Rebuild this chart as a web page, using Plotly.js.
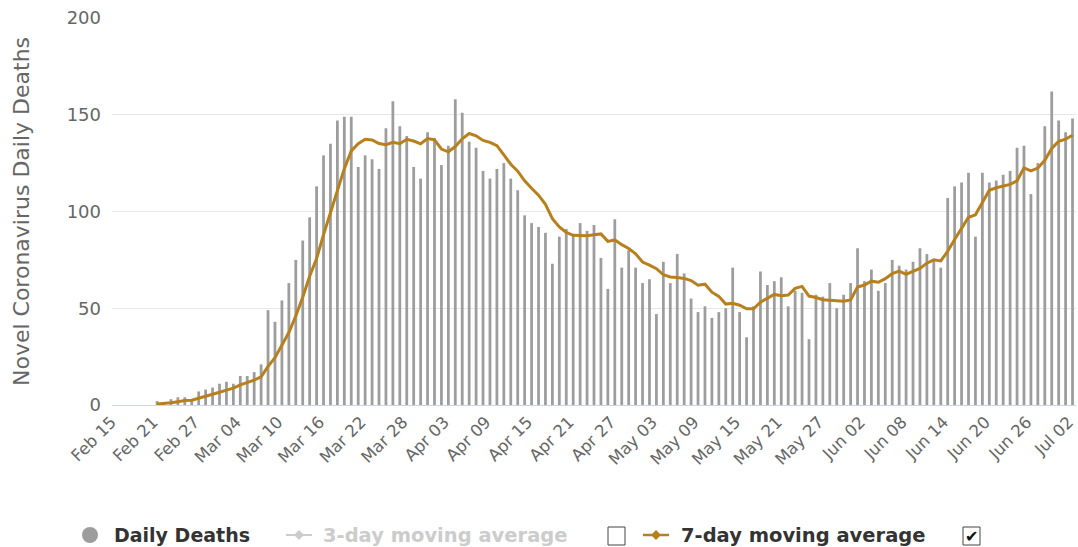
<!DOCTYPE html>
<html>
<head>
<meta charset="utf-8">
<script src="https://cdn.plot.ly/plotly-3.0.1.min.js"></script>
<style>
  html, body { margin: 0; padding: 0; background: #ffffff; }
  #chart { width: 1078px; height: 547px; }
</style>
</head>
<body>
<div id="chart"></div>
<script>
// ---- Data ----
const dates = [
  'Feb 15','Feb 16','Feb 17','Feb 18','Feb 19','Feb 20','Feb 21','Feb 22','Feb 23','Feb 24','Feb 25','Feb 26','Feb 27','Feb 28','Feb 29',
  'Mar 01','Mar 02','Mar 03','Mar 04','Mar 05','Mar 06','Mar 07','Mar 08','Mar 09','Mar 10','Mar 11','Mar 12','Mar 13','Mar 14','Mar 15','Mar 16',
  'Mar 17','Mar 18','Mar 19','Mar 20','Mar 21','Mar 22','Mar 23','Mar 24','Mar 25','Mar 26','Mar 27','Mar 28','Mar 29','Mar 30','Mar 31',
  'Apr 01','Apr 02','Apr 03','Apr 04','Apr 05','Apr 06','Apr 07','Apr 08','Apr 09','Apr 10','Apr 11','Apr 12','Apr 13','Apr 14','Apr 15',
  'Apr 16','Apr 17','Apr 18','Apr 19','Apr 20','Apr 21','Apr 22','Apr 23','Apr 24','Apr 25','Apr 26','Apr 27','Apr 28','Apr 29','Apr 30',
  'May 01','May 02','May 03','May 04','May 05','May 06','May 07','May 08','May 09','May 10','May 11','May 12','May 13','May 14','May 15','May 16',
  'May 17','May 18','May 19','May 20','May 21','May 22','May 23','May 24','May 25','May 26','May 27','May 28','May 29','May 30','May 31',
  'Jun 01','Jun 02','Jun 03','Jun 04','Jun 05','Jun 06','Jun 07','Jun 08','Jun 09','Jun 10','Jun 11','Jun 12','Jun 13','Jun 14','Jun 15',
  'Jun 16','Jun 17','Jun 18','Jun 19','Jun 20','Jun 21','Jun 22','Jun 23','Jun 24','Jun 25','Jun 26','Jun 27','Jun 28','Jun 29','Jun 30',
  'Jul 01','Jul 02'
];

const dailyDeaths = [
  0,0,0,0,0,0,2,1,3,4,4,3,7,8,9,
  11,12,11,15,15,17,21,49,43,54,63,75,85,97,113,129,
  135,147,149,149,123,129,127,122,143,157,144,139,123,117,141,
  138,124,134,158,151,136,133,121,117,122,125,117,111,98,94,
  92,89,73,87,91,88,94,90,93,76,60,96,71,80,71,
  63,65,47,74,63,78,68,55,48,51,45,48,50,71,48,35,
  51,69,62,64,66,51,59,58,34,57,56,63,50,57,63,
  81,64,70,59,63,75,72,70,74,81,78,75,71,107,113,
  115,120,87,120,115,116,119,121,133,134,109,125,144,162,147,
  141,148
];

const movingAvg7 = [
  null,null,null,null,null,null,0.57,0.71,1.14,1.71,2.29,2.43,3.43,4.29,5.43,
  6.57,7.71,8.71,10.43,11.57,12.86,14.57,20.00,24.43,30.57,37.43,46.00,55.71,66.57,75.71,88.00,
  99.57,111.57,122.14,131.29,135.00,137.29,137.00,135.14,134.57,135.71,135.00,137.29,136.43,135.00,137.71,
  137.00,132.29,130.86,133.57,137.57,140.29,139.14,136.71,135.71,134.00,129.29,124.43,120.86,115.86,112.00,
  108.43,103.71,96.29,92.00,89.14,87.71,87.71,87.43,88.00,88.43,84.57,85.29,82.86,80.86,78.14,
  73.86,72.29,70.43,67.29,66.14,65.86,65.43,64.29,61.86,62.43,58.29,56.14,52.14,52.57,51.57,49.71,
  49.71,53.14,55.14,57.14,56.43,56.86,60.29,61.29,56.29,55.57,54.43,54.00,53.86,53.57,54.29,
  61.00,62.00,64.00,63.43,65.29,67.86,69.14,67.57,69.00,70.57,73.29,75.00,74.43,79.43,85.57,
  91.43,97.00,98.29,104.71,111.00,112.29,113.14,114.00,115.86,122.57,121.00,122.43,126.43,132.57,136.29,
  137.43,139.43
];

const tickLabels = ['Feb 15','Feb 21','Feb 27','Mar 04','Mar 10','Mar 16','Mar 22','Mar 28','Apr 03','Apr 09','Apr 15','Apr 21',
  'Apr 27','May 03','May 09','May 15','May 21','May 27','Jun 02','Jun 08','Jun 14','Jun 20','Jun 26','Jul 02'];

const seriesNames = ['Daily Deaths', '3-day moving average', '7-day moving average'];
const yTitle = 'Novel Coronavirus Daily Deaths';

// ---- Styling ----
const BAR_COLOR = '#9d9d9d';
const LINE_COLOR = '#b8801c';
const HIDDEN_COLOR = '#cccccc';
const TEXT_DARK = '#333333';
const TEXT_GRAY = '#666666';

// plot-area geometry in pixels (for placing the custom legend)
const W = 1078, H = 547;
const M = {l: 112, r: 2, t: 18, b: 142};
const PW = W - M.l - M.r, PH = H - M.t - M.b;
const px = x => (x - M.l) / PW;
const py = y => (H - M.b - y) / PH;

const LEG_Y = 535;

function diamondPath(cx, cy, r) {
  return 'M' + px(cx - r) + ',' + py(cy) + ' L' + px(cx) + ',' + py(cy - r) +
         ' L' + px(cx + r) + ',' + py(cy) + ' L' + px(cx) + ',' + py(cy + r) + ' Z';
}

const shapes = [
  // Daily Deaths legend circle
  {type: 'circle', xref: 'paper', yref: 'paper', x0: px(82), x1: px(98), y0: py(LEG_Y - 8), y1: py(LEG_Y + 8),
   fillcolor: BAR_COLOR, line: {width: 0}},
  // 3-day legend icon (hidden series)
  {type: 'line', xref: 'paper', yref: 'paper', x0: px(286), x1: px(312), y0: py(LEG_Y), y1: py(LEG_Y),
   line: {color: HIDDEN_COLOR, width: 2}},
  {type: 'path', xref: 'paper', yref: 'paper', path: diamondPath(299, LEG_Y, 5),
   fillcolor: HIDDEN_COLOR, line: {width: 0}},
  // empty checkbox
  {type: 'rect', xref: 'paper', yref: 'paper', x0: px(608), x1: px(625), y0: py(LEG_Y - 8), y1: py(LEG_Y + 10),
   fillcolor: '#ffffff', line: {color: '#444444', width: 1}},
  // 7-day legend icon
  {type: 'line', xref: 'paper', yref: 'paper', x0: px(643), x1: px(669), y0: py(LEG_Y), y1: py(LEG_Y),
   line: {color: LINE_COLOR, width: 2.5}},
  {type: 'path', xref: 'paper', yref: 'paper', path: diamondPath(656, LEG_Y, 5),
   fillcolor: LINE_COLOR, line: {width: 0}},
  // checked checkbox
  {type: 'rect', xref: 'paper', yref: 'paper', x0: px(963), x1: px(980), y0: py(LEG_Y - 8), y1: py(LEG_Y + 10),
   fillcolor: '#ffffff', line: {color: '#444444', width: 1}}
];

const legendFont = {family: 'DejaVu Sans', size: 19.5, color: TEXT_DARK, weight: 'bold'};
const annotations = [
  {xref: 'paper', yref: 'paper', x: px(112), y: py(LEG_Y), xanchor: 'left', yanchor: 'middle', showarrow: false,
   text: '<b>' + seriesNames[0] + '</b>', font: Object.assign({}, legendFont, {size: 19})},
  {xref: 'paper', yref: 'paper', x: px(321), y: py(LEG_Y), xanchor: 'left', yanchor: 'middle', showarrow: false,
   text: '<b>' + seriesNames[1] + '</b>', font: Object.assign({}, legendFont, {color: HIDDEN_COLOR})},
  {xref: 'paper', yref: 'paper', x: px(679), y: py(LEG_Y), xanchor: 'left', yanchor: 'middle', showarrow: false,
   text: '<b>' + seriesNames[2] + '</b>', font: legendFont},
  {xref: 'paper', yref: 'paper', x: px(971.5), y: py(LEG_Y + 1), xanchor: 'center', yanchor: 'middle', showarrow: false,
   text: '<b>✔</b>', font: {family: 'DejaVu Sans', size: 16, color: '#111111'}}
];

const traces = [
  {type: 'bar', name: seriesNames[0], x: dates, y: dailyDeaths,
   marker: {color: BAR_COLOR, line: {width: 0}}, showlegend: false, hoverinfo: 'x+y'},
  {type: 'scatter', mode: 'lines', name: seriesNames[2], x: dates, y: movingAvg7,
   line: {color: LINE_COLOR, width: 3}, connectgaps: false, showlegend: false}
];

const layout = {
  width: W, height: H,
  margin: M,
  paper_bgcolor: '#ffffff', plot_bgcolor: '#ffffff',
  bargap: 0.6,
  showlegend: false,
  xaxis: {
    type: 'category',
    range: [-0.5, dates.length - 0.5],
    tickmode: 'array', tickvals: tickLabels, ticktext: tickLabels,
    tickangle: -45,
    tickfont: {family: 'DejaVu Sans', size: 16.5, color: TEXT_GRAY},
    ticklabelshift: -4,
    showgrid: false, showline: true, linecolor: '#ccd6eb', linewidth: 1,
    ticks: '', zeroline: false, automargin: false
  },
  yaxis: {
    range: [0, 200], tickmode: 'array', tickvals: [0, 50, 100, 150, 200],
    tickfont: {family: 'DejaVu Sans', size: 18, color: TEXT_GRAY},
    ticklabelstandoff: 10,
    gridcolor: '#e6e6e6', gridwidth: 1, zeroline: false, showline: false, ticks: '',
    title: {text: yTitle, font: {family: 'DejaVu Sans', size: 22, color: TEXT_GRAY}, standoff: 30},
    automargin: false
  },
  shapes: shapes,
  annotations: annotations
};

Plotly.newPlot('chart', traces, layout, {displayModeBar: false, staticPlot: true});
</script>
</body>
</html>
